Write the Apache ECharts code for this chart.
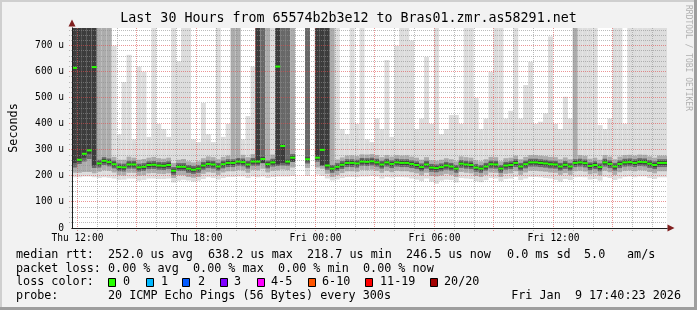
<!DOCTYPE html>
<html><head><meta charset="utf-8">
<script src="https://cdn.jsdelivr.net/npm/echarts/dist/echarts.min.js"></script>
<style>html,body{margin:0;padding:0;background:#f2f2f2}#c{width:697px;height:310px}</style>
</head><body><div id="c"></div>
<script>
// time axis: hours since Thu 00:00 ; each slot = 15 minutes
const startHour = 11.725;
const slotHours = 0.25;
const yMax = 768;

// median RTT (microseconds), one per slot; null = no data
const med = [615,262,285,298,618,248,258,253,245,234,
 233,244,244,233,235,242,243,240,239,242,
 220,235,235,228,224,228,240,246,244,236,
 245,250,250,255,253,244,255,255,265,245,
 252,620,315,255,270,null,null,264,null,270,
 300,240,228,235,243,250,250,248,255,254,
 256,252,244,252,246,252,250,250,246,242,
 234,244,232,230,234,240,236,228,247,244,
 242,232,228,236,245,244,228,240,242,250,
 236,245,252,252,250,248,245,244,236,243,
 236,250,252,249,238,242,234,252,246,236,
 246,252,253,250,254,253,247,242,250,250];

// smoke: outer (lightest) band = min..max ping
const lo1 = [195,195,198,198,195,192,195,193,190,185,
 186,190,190,182,185,190,190,188,188,190,
 175,182,185,182,178,182,188,195,192,186,
 192,196,196,198,198,192,198,195,198,192,
 196,198,198,198,200,null,null,200,null,205,
 200,190,182,186,192,196,196,195,198,198,
 200,198,190,196,194,196,196,195,190,186,
 180,190,178,170,182,186,184,175,192,190,
 188,180,176,184,192,190,180,188,190,196,
 184,190,196,196,195,192,190,185,178,188,
 184,195,196,195,186,188,182,196,192,184,
 190,196,198,195,198,198,192,188,195,195];
const hi1 = [800,800,800,800,800,800,800,800,700,360,
 560,665,340,620,600,350,800,400,380,350,
 800,640,800,800,340,330,480,360,330,800,
 350,400,800,800,340,430,620,800,800,800,
 800,800,800,800,800,null,null,800,null,800,
 800,800,800,800,380,360,800,400,800,340,
 330,420,380,645,350,700,800,800,720,380,
 420,657,400,800,360,380,434,434,400,800,
 800,500,380,420,600,800,800,420,450,800,
 420,549,638,400,408,440,735,400,380,504,
 420,800,800,800,800,800,395,380,420,800,
 800,400,800,800,800,800,800,800,800,800];
// second band
const lo2 = [212,212,215,215,210,216,222,220,213,203,
 202,212,212,201,203,210,211,208,207,210,
 192,203,203,196,193,196,208,214,212,204,
 213,218,218,223,221,212,223,222,228,213,
 220,222,225,223,232,null,null,230,null,232,
 228,208,196,203,211,218,218,216,223,222,
 224,220,212,220,214,220,218,218,214,210,
 202,212,200,198,202,208,204,196,215,212,
 210,200,196,204,213,212,196,208,210,218,
 204,213,220,220,218,216,213,212,204,211,
 204,218,220,217,206,210,202,220,214,204,
 214,220,221,218,222,221,215,210,218,218];
const hi2 = [800,800,800,800,800,800,800,800,273,262,
 262,274,270,262,265,270,273,268,266,270,
 250,262,265,256,252,256,268,275,272,264,
 273,278,800,800,281,272,284,800,800,800,
 282,800,800,800,800,null,null,800,null,800,
 800,800,800,263,271,278,279,276,283,282,
 284,280,272,280,274,280,278,279,274,270,
 262,272,260,258,262,268,264,256,275,272,
 270,260,256,264,273,272,256,268,270,278,
 264,273,280,280,278,276,273,272,264,271,
 264,800,280,277,266,270,262,280,274,264,
 274,280,281,278,282,281,275,270,278,278];
// third band
const lo3 = [232,246,255,265,230,232,242,237,229,218,
 217,228,228,217,219,226,227,224,223,226,
 204,219,219,212,208,212,224,230,228,220,
 229,234,234,239,237,228,239,239,249,229,
 236,238,240,239,254,null,null,248,null,254,
 240,224,212,219,227,234,234,232,239,238,
 240,236,228,236,230,236,234,234,230,226,
 218,228,216,214,218,224,220,212,231,228,
 226,216,212,220,229,228,212,224,226,234,
 220,229,236,236,234,232,229,228,220,227,
 220,234,236,233,222,226,218,236,230,220,
 230,236,237,234,238,237,231,226,234,234];
const hi3 = [800,800,800,800,800,262,272,267,259,248,
 247,258,258,247,249,256,257,254,253,256,
 234,249,249,242,238,242,254,260,258,250,
 259,264,264,269,267,258,269,800,800,259,
 266,800,800,800,284,null,null,800,null,800,
 800,800,242,249,257,264,264,262,269,268,
 270,266,258,266,260,266,264,264,260,256,
 248,258,246,244,248,254,250,242,261,258,
 256,246,242,250,259,258,242,254,256,264,
 250,259,266,266,264,262,259,258,250,257,
 250,264,266,263,252,256,248,266,260,250,
 260,266,267,264,268,267,261,256,264,264];
// innermost (darkest) band
const lo4 = [250,254,270,285,240,240,250,245,237,226,
 225,236,236,225,227,234,235,232,231,234,
 212,227,227,220,216,220,232,238,236,228,
 237,242,242,247,245,236,247,247,250,237,
 244,245,250,247,255,null,null,256,null,262,
 240,232,220,227,235,242,242,240,247,246,
 248,244,236,244,238,244,242,242,238,234,
 226,236,224,222,226,232,228,220,239,236,
 234,224,220,228,237,236,220,232,234,242,
 228,237,244,244,242,240,237,236,228,235,
 228,242,244,241,230,234,226,244,238,228,
 238,244,245,242,246,245,239,234,242,242];
const hi4 = [800,800,800,800,800,255,265,260,252,241,
 240,251,251,240,242,249,250,247,246,249,
 227,242,242,235,231,235,247,253,251,243,
 252,257,257,262,260,251,262,800,272,252,
 259,800,322,262,277,null,null,271,null,800,
 800,800,235,242,250,257,257,255,262,261,
 263,259,251,259,253,259,257,257,253,249,
 241,251,239,237,241,247,243,235,254,251,
 249,239,235,243,252,251,235,247,249,257,
 243,252,259,259,257,255,252,251,243,250,
 243,257,259,256,245,249,241,259,253,243,
 253,259,260,257,261,260,254,249,257,257];

// grid / tick definitions
const vMajor = [12,15,18,21,24,27,30,33,36,39];
const vMinor = [13,14,16,17,19,20,22,23,25,26,28,29,31,32,34,35,37,38,40,41];
const hMajor = [100,200,300,400,500,600,700];
const hMinor = [20,40,60,80,120,140,160,180,220,240,260,280,320,340,360,380,420,440,460,480,520,540,560,580,620,640,660,680,720,740,760];
const xLabelText = {12:'Thu 12:00',18:'Thu 18:00',24:'Fri 00:00',30:'Fri 06:00',36:'Fri 12:00'};

const titleText = 'Last 30 Hours from 65574b2b3e12 to Bras01.zmr.as58291.net';
const legendLines = [
  {y:255, items:[['median rtt:',16],['252.0 us avg',108],['638.2 us max',208],['218.7 us min',307],['246.5 us now',406],['0.0 ms sd',507],['5.0',584],['am/s',627]]},
  {y:268.5, items:[['packet loss:',16],['0.00 % avg',108],['0.00 % max',193],['0.00 % min',278],['0.00 % now',363]]},
  {y:282, items:[['loss color:',16]]},
  {y:296, items:[['probe:',16],['20 ICMP Echo Pings (56 Bytes) every 300s',108]]}
];
const dateText = 'Fri Jan  9 17:40:23 2026';
const lossLabels = ['0','1','2','3','4-5','6-10','11-19','20/20'];
const lossColors = ['#26ff00','#00b8ff','#0059ff','#7e00ff','#ff00ff','#ff5500','#ff0000','#a10000'];
const lossBoxX = [108,146,182,220,257,308,365,430];
const lossLabelX = [123,161,198,234,271,322,380,444];

const layerColors = ['#dddddd','#acacac','#686868','#3c3c3c'];
const MONO = '"DejaVu Sans Mono", monospace';

const smokeData = [];
for (let k = 0; k < med.length; k++) {
  if (med[k] === null) continue;
  smokeData.push([startHour + k*slotHours, lo1[k], hi1[k], lo2[k], hi2[k], lo3[k], hi3[k], lo4[k], hi4[k], med[k]]);
}

function smokeItem(params, api) {
  const t = api.value(0);
  const kids = [];
  for (let i = 0; i < 4; i++) {
    const lo = api.value(1 + 2*i), hi = Math.min(api.value(2 + 2*i), yMax);
    const a = api.coord([t, lo]), b = api.coord([t + slotHours, hi]);
    kids.push({type:'rect', shape:{x:a[0], y:b[1], width:b[0]-a[0], height:a[1]-b[1]}, style:{fill:layerColors[i]}});
  }
  return {type:'group', children:kids};
}
function medianItem(params, api) {
  const t = api.value(0), m = api.value(9);
  const a = api.coord([t, m]), b = api.coord([t + slotHours, m]);
  return {type:'rect', shape:{x:a[0], y:a[1]-1, width:b[0]-a[0], height:2}, style:{fill:'#26ff00'}};
}
const gridData = [];
vMajor.forEach(v => gridData.push([v, 0, 1, 1]));
vMinor.forEach(v => gridData.push([v, 0, 1, 0]));
hMajor.forEach(h => gridData.push([startHour, h, 0, 1]));
hMinor.forEach(h => gridData.push([startHour, h, 0, 0]));
function gridItem(params, api) {
  const cs = params.coordSys;
  const vert = api.value(2) === 1, major = api.value(3) === 1;
  const p = api.coord([api.value(0), api.value(1)]);
  let shape;
  if (vert) { const x = Math.floor(p[0]) + 0.5; shape = {x1:x, y1:cs.y, x2:x, y2:cs.y+cs.height+3}; }
  else { const y = Math.floor(p[1]) + 0.5; shape = {x1:cs.x-3, y1:y, x2:cs.x+cs.width, y2:y}; }
  return {type:'line', shape, style:{stroke: major ? 'rgba(222,79,79,0.6)' : 'rgba(143,143,143,0.6)', lineWidth:1, lineDash:[1,1]}};
}

const graphics = [
  {type:'rect', shape:{x:0,y:0,width:697,height:2}, style:{fill:'#cfcfcf'}, silent:true},
  {type:'rect', shape:{x:0,y:0,width:2,height:310}, style:{fill:'#cfcfcf'}, silent:true},
  {type:'rect', shape:{x:0,y:307,width:697,height:3}, style:{fill:'#9e9e9e'}, silent:true},
  {type:'rect', shape:{x:694,y:0,width:3,height:310}, style:{fill:'#9e9e9e'}, silent:true},
  {type:'text', x:688, y:5, rotation:-Math.PI/2, style:{text:'RRDTOOL / TOBI OETIKER', font:'8px '+MONO, fill:'#b0b0b0', textAlign:'left', textVerticalAlign:'middle'}, silent:true},
  {type:'text', x:681, y:296, style:{text:dateText, font:'11.75px '+MONO, fill:'#000', textAlign:'right', textVerticalAlign:'middle'}, silent:true}
];
legendLines.forEach(row => row.items.forEach(it => graphics.push({type:'text', x:it[1], y:row.y, style:{text:it[0], font:'11.75px '+MONO, fill:'#000', textAlign:'left', textVerticalAlign:'middle'}, silent:true})));
lossLabels.forEach((lab, i) => {
  graphics.push({type:'rect', shape:{x:lossBoxX[i]+0.5, y:278.5, width:7, height:8}, style:{fill:lossColors[i], stroke:'#000', lineWidth:1}, silent:true});
  graphics.push({type:'text', x:lossLabelX[i], y:282, style:{text:lab, font:'11.75px '+MONO, fill:'#000', textAlign:'left', textVerticalAlign:'middle'}, silent:true});
});

const chart = echarts.init(document.getElementById('c'), null, {renderer:'canvas'});
chart.setOption({
  animation:false,
  backgroundColor:'#f2f2f2',
  title:{text:titleText, left:'center', top:12, padding:0, textStyle:{fontFamily:MONO, fontSize:13.3, fontWeight:'normal', color:'#000'}},
  grid:{left:67, top:28, width:600, height:200, show:true, backgroundColor:'#ffffff', borderWidth:0},
  xAxis:[
    {type:'value', min:startHour, max:startHour+30, splitNumber:10, z:3,
     axisLine:{show:true, onZero:false, lineStyle:{color:'#1f1f1f', width:1}},
     axisTick:{show:false}, splitLine:{show:false},
     axisLabel:{show:true, margin:5, fontFamily:MONO, fontSize:9.6, color:'#000', showMinLabel:false, showMaxLabel:false,
       formatter:v => xLabelText[Math.round(v*1000)/1000] || ''}},
    {type:'value', min:startHour, max:startHour+30, z:2, position:'bottom',
     axisLine:{show:true, onZero:false, symbol:['none','triangle'], symbolSize:[7,7], symbolOffset:[0,4], lineStyle:{color:'#801f1f'}},
     axisTick:{show:false}, axisLabel:{show:false}, splitLine:{show:false}}
  ],
  yAxis:[
    {type:'value', min:0, max:yMax, interval:100, z:3,
     name:'Seconds', nameLocation:'middle', nameRotate:90, nameGap:52,
     nameTextStyle:{fontFamily:MONO, fontSize:11.75, color:'#000'},
     axisLine:{show:true, lineStyle:{color:'#1f1f1f', width:1}},
     axisTick:{show:false}, splitLine:{show:false},
     axisLabel:{margin:8, fontFamily:MONO, fontSize:9.6, color:'#000', showMaxLabel:false,
       formatter:v => v === 0 ? '0' : v + ' u'}},
    {type:'value', min:0, max:yMax, z:2, position:'left',
     axisLine:{show:true, symbol:['none','triangle'], symbolSize:[7,7], symbolOffset:[0,5], lineStyle:{color:'#801f1f'}},
     axisTick:{show:false}, axisLabel:{show:false}, splitLine:{show:false}}
  ],
  series:[
    {type:'custom', name:'smoke', renderItem:smokeItem, data:smokeData, clip:true, z:1, silent:true,
     encode:{x:0, y:[1,2,3,4,5,6,7,8]}},
    {type:'custom', name:'grid', renderItem:gridItem, data:gridData, z:2, silent:true, encode:{x:0, y:1}},
    {type:'custom', name:'median', renderItem:medianItem, data:smokeData, clip:true, z:3, silent:true,
     encode:{x:0, y:9}}
  ],
  graphic:graphics
});
</script>
</body></html>
